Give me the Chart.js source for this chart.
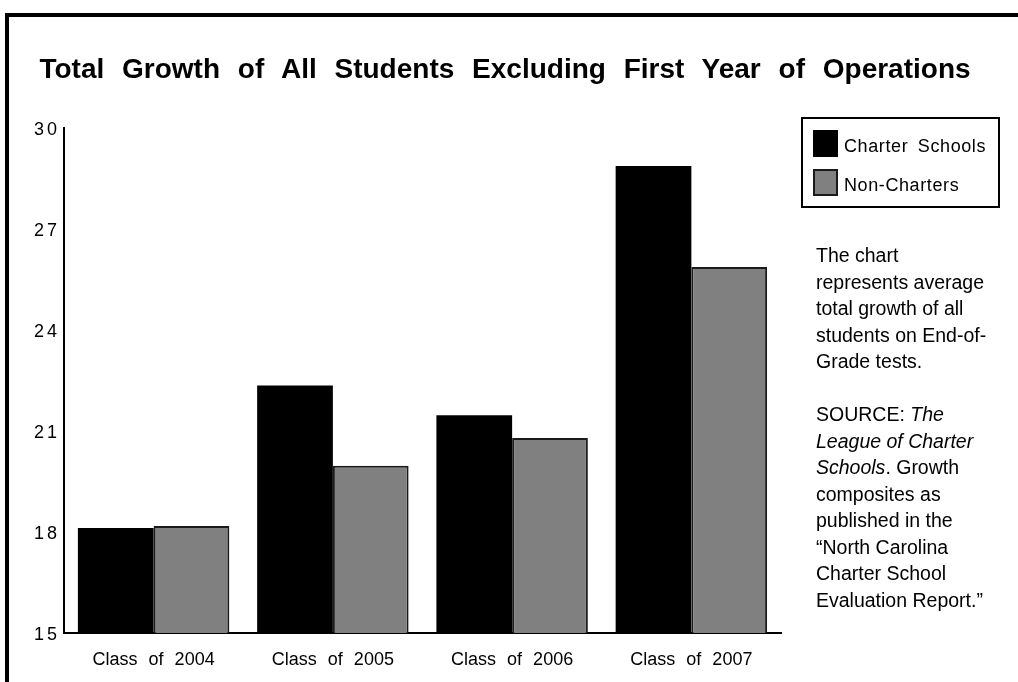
<!DOCTYPE html>
<html>
<head>
<meta charset="utf-8">
<script src="https://cdn.jsdelivr.net/npm/chart.js@4/dist/chart.umd.min.js"></script>
<style>
  html, body { margin: 0; padding: 0; background: #fff; }
  body { width: 1018px; height: 682px; position: relative; overflow: hidden; font-family: "Liberation Sans", Arial, sans-serif; color: #000; }
  #frame { position: absolute; left: 5px; top: 13px; width: 1100px; height: 800px; border-top: 4px solid #000; border-left: 4px solid #000; box-sizing: border-box; }
  #title { position: absolute; left: 0; top: 53px; width: 1010px; text-align: center; font-weight: bold; font-size: 28px; word-spacing: 10px; white-space: nowrap; }
  #chartWrap { position: absolute; left: 0; top: 0; width: 1018px; height: 682px; }
  #legend { position: absolute; left: 801px; top: 117px; width: 199px; height: 91px; border: 2px solid #000; box-sizing: border-box; background: #fff; }
  .li { position: absolute; left: 10px; height: 27px; display: flex; align-items: center; font-size: 18px; word-spacing: 4px; letter-spacing: 0.6px; white-space: nowrap; }
  .li span { padding-top: 6px; }
  .sw { width: 25px; height: 27px; box-sizing: border-box; margin-right: 6px; }
  #note { position: absolute; left: 816px; top: 242px; font-size: 19.5px; line-height: 26.5px; white-space: nowrap; }
</style>
</head>
<body>
<div id="frame"></div>
<div id="chartWrap"><canvas id="c" width="1018" height="682"></canvas></div>
<div id="title">Total Growth of All Students Excluding First Year of Operations</div>
<div id="legend"></div>
<div id="note">The chart<br>represents average<br>total growth of all<br>students on End-of-<br>Grade tests.<br><br>SOURCE: <i>The</i><br><i>League of Charter</i><br><i>Schools</i>. Growth<br>composites as<br>published in the<br>“North Carolina<br>Charter School<br>Evaluation Report.”</div>
<script>
const categories = ["Class of 2004", "Class of 2005", "Class of 2006", "Class of 2007"];
const seriesNames = ["Charter Schools", "Non-Charters"];
const charterValues = [18.12, 22.35, 21.47, 28.87];
const nonCharterValues = [18.18, 19.97, 20.79, 25.87];
const yTicks = [15, 18, 21, 24, 27, 30];

const FONT = '"Liberation Sans", Arial, sans-serif';

const chart = new Chart(document.getElementById('c'), {
  type: 'bar',
  data: {
    labels: categories,
    datasets: [
      { label: seriesNames[0], data: charterValues, backgroundColor: '#000000', borderWidth: 0 },
      { label: seriesNames[1], data: nonCharterValues, backgroundColor: '#808080', borderColor: '#1a1a1a', borderWidth: 2 }
    ]
  },
  options: {
    responsive: false,
    animation: false,
    events: [],
    layout: { padding: { top: 128, right: 237, bottom: 9, left: 0 } },
    plugins: { legend: { display: false }, tooltip: { enabled: false }, title: { display: false } },
    datasets: { bar: { categoryPercentage: 0.845, barPercentage: 1.0 } },
    scales: {
      x: {
        grid: { display: false, drawTicks: false },
        border: { display: true, color: '#000', width: 2 },
        ticks: { color: '#000', font: { family: FONT, size: 18 }, padding: 16, maxRotation: 0 },
        afterFit: s => { s.height = 40; }
      },
      y: {
        min: 15, max: 30,
        grid: { display: false, drawTicks: false },
        border: { display: true, color: '#000', width: 2 },
        afterBuildTicks: s => { s.ticks = yTicks.map(v => ({ value: v })); },
        ticks: { color: '#000', font: { family: FONT, size: 18 }, padding: 4 },
        afterFit: s => { s.width = 64; }
      }
    }
  }
});

// letter / word spacing for axis labels, as in the reference
const ctx = chart.ctx;
const ys = chart.scales.y, xs = chart.scales.x;
const yDraw = ys.drawLabels.bind(ys);
ys.drawLabels = function (a) { ctx.save(); ctx.letterSpacing = '3px'; ctx.translate(0, 2); yDraw(a); ctx.restore(); };
const xDraw = xs.drawLabels.bind(xs);
xs.drawLabels = function (a) { ctx.save(); ctx.wordSpacing = '6px'; xDraw(a); ctx.restore(); };
chart.draw();

// HTML legend built from the chart datasets
const leg = document.getElementById('legend');
chart.data.datasets.forEach((ds, i) => {
  const row = document.createElement('div');
  row.className = 'li';
  row.style.top = (i === 0 ? 11 : 50) + 'px';
  const sw = document.createElement('div');
  sw.className = 'sw';
  sw.style.background = ds.backgroundColor;
  if (ds.borderWidth) sw.style.border = '2px solid ' + ds.borderColor;
  row.appendChild(sw);
  const t = document.createElement('span');
  t.textContent = ds.label;
  row.appendChild(t);
  leg.appendChild(row);
});
</script>
</body>
</html>
